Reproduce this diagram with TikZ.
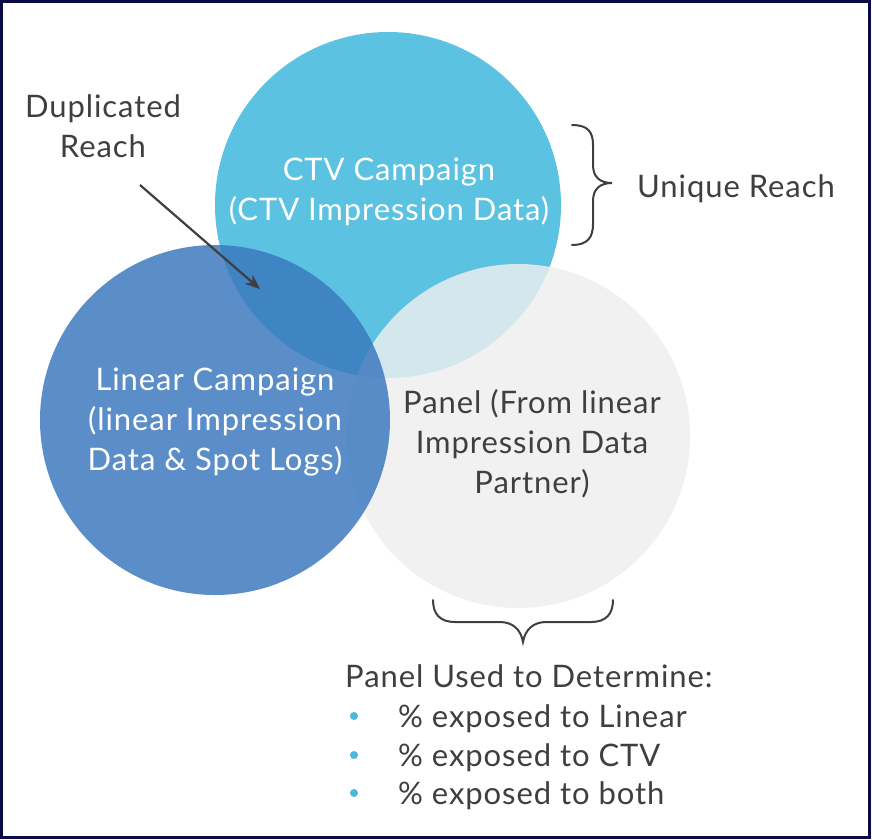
\documentclass[tikz,border=0pt]{standalone}
\usepackage{fontspec}
\setmainfont[LetterSpace=3]{Lato}
\usetikzlibrary{arrows.meta}
\definecolor{ctvc}{HTML}{5BC3E1}
\definecolor{linc}{HTML}{3A78BE}
\definecolor{panc}{HTML}{EFEFEF}
\definecolor{txtc}{HTML}{3F3F3F}
\definecolor{framec}{HTML}{0A0A45}
\definecolor{bulc}{HTML}{4DB8DE}
\begin{document}
\begin{tikzpicture}[x=1pt,y=-1pt,
  lbl/.style={font=\fontsize{31}{40}\selectfont, inner sep=0pt, align=center, anchor=base, text=txtc},
  wlbl/.style={lbl, text=white},
  venn/.style={circle, inner sep=0pt, draw=none},
  bracepath/.style={draw=txtc, line width=2pt, line cap=round},
  bul/.style={circle, fill=bulc, inner sep=0pt, minimum size=8pt}]
\useasboundingbox (0,0) rectangle (872,839);
\fill[white] (0,0) rectangle (872,839);
% circles
\node[venn, fill=ctvc, minimum size=346pt] (ctv) at (388,205) {};
\node[venn, fill=panc, fill opacity=0.82, minimum size=344pt] (pan) at (518,436) {};
\node[venn, fill=linc, fill opacity=0.83, minimum size=350pt] (lin) at (215,420) {};
% circle texts (anchor base = baseline of last line)
\node[wlbl] (ctvt) at (389,220) {CTV Campaign\\(CTV Impression Data)};
\node[wlbl] (lint) at (215,470) {Linear Campaign\\(linear Impression\\Data \& Spot Logs)};
\node[lbl] (pant) at (532,493) {Panel (From linear\\Impression Data\\Partner)};
% duplicated reach
\node[lbl] (dup) at (103,157) {Duplicated\\Reach};
\coordinate (a1) at (140,185);
\coordinate (a2) at (260,289);
\draw[txtc, line width=2.2pt, -{Stealth[length=15pt,width=12pt]}] (a1) -- (a2);
% unique reach brace
\path[bracepath] (572,125) .. controls (588,125) and (593,132) .. (593,145) -- (593,165)
  .. controls (593,177) and (600,183) .. (612,183)
  .. controls (600,183) and (593,189) .. (593,201) -- (593,224)
  .. controls (593,237) and (588,245) .. (572,245);
\node[lbl, anchor=base west] (uniq) at (637,197) {Unique Reach};
% bottom brace
\path[bracepath] (433,600) .. controls (433,614) and (440,622) .. (455,622) -- (500,622)
  .. controls (513,622) and (521,630) .. (523,642)
  .. controls (525,630) and (533,622) .. (546,622) -- (591,622)
  .. controls (606,622) and (613,614) .. (613,600);
\node[lbl, anchor=base west] (used) at (345,687) {Panel Used to Determine:};
\node[lbl, anchor=base west] (i1) at (398,727) {\% exposed to Linear};
\node[lbl, anchor=base west] (i2) at (398,766) {\% exposed to CTV};
\node[lbl, anchor=base west] (i3) at (398,804) {\% exposed to both};
\node[bul] (b1) at (354,716) {};
\node[bul] (b2) at (354,755) {};
\node[bul] (b3) at (354,793) {};
% frame
\draw[framec, line width=2.5pt] (1.25,1.25) rectangle (869.5,837.5);
\end{tikzpicture}
\end{document}
